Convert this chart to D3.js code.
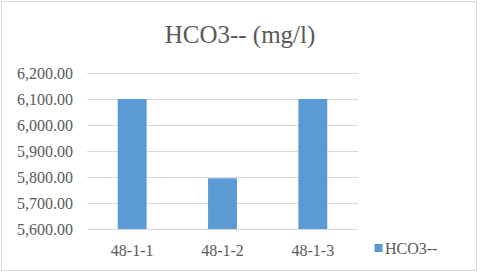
<!DOCTYPE html>
<html>
<head>
<meta charset="utf-8">
<script src="https://cdn.jsdelivr.net/npm/d3@7"></script>
<style>
  body { margin: 0; background: #fff; }
  svg text { font-family: 'Liberation Serif', 'Times New Roman', serif !important; fill: #595959; }
</style>
</head>
<body>
<div id="chart"></div>
<script>
// data
var categories = ["48-1-1", "48-1-2", "48-1-3"];
var values = [6100, 5795, 6100];
var seriesName = "HCO3--";
var yTicks = [5600, 5700, 5800, 5900, 6000, 6100, 6200];

var serif = "'Liberation Serif', 'Times New Roman', serif"

var svg = d3.select("#chart")
    .append("svg")
    .attr("width", 480)
    .attr("height", 274)
    .attr("font-family", serif)

// chart frame
svg.append("rect")
    .attr("x", 1.5).attr("y", 1.5)
    .attr("width", 475).attr("height", 269)
    .attr("fill", "#fff")
    .attr("stroke", "#d9d9d9")

svg.append("text")
    .attr("x", 240)
    .attr("y", 43)
    .attr("text-anchor", "middle")
    .style("font-size", "25px")
    .text("HCO3-- (mg/l)")

var x = d3.scaleBand()
    .domain(categories)
    .range([87, 358])
    .paddingInner(0.68)
    .paddingOuter(0.34)

var y = d3.scaleLinear()
    .domain([5600, 6200])
    .range([229, 73])

// gridlines
svg.append("g")
    .selectAll("line")
    .data(yTicks)
    .enter()
    .append("line")
    .attr("x1", 87).attr("x2", 358)
    .attr("y1", d => Math.round(y(d)) + 0.5)
    .attr("y2", d => Math.round(y(d)) + 0.5)
    .attr("stroke", "#d9d9d9")

// y axis labels
var yAxis = svg.append("g")
    .attr("transform", "translate(73,0)")
    .call(d3.axisLeft(y).tickValues(yTicks).tickSize(0).tickPadding(0).tickFormat(d3.format(",.2f")))
yAxis.attr("font-family", serif).attr("font-size", 16)
yAxis.select(".domain").remove()
yAxis.selectAll("text")
    .attr("fill", "#595959")

svg.selectAll(".bar")
    .data(values)
    .enter()
    .append("rect")
    .attr("class", "bar")
    .attr("x", (d, i) => x(categories[i]))
    .attr("y", d => y(d))
    .attr("width", x.bandwidth())
    .attr("height", d => y(5600) - y(d))
    .attr("fill", "#5b9bd5")

// x axis labels
var xAxis = svg.append("g")
    .attr("transform", "translate(0,245)")
    .call(d3.axisBottom(x).tickSize(0).tickPadding(0))
xAxis.attr("font-family", serif).attr("font-size", 16)
xAxis.select(".domain").remove()
xAxis.selectAll("text")
    .attr("fill", "#595959")

// legend
svg.append("rect")
    .attr("x", 374.5).attr("y", 244)
    .attr("width", 8).attr("height", 8)
    .attr("fill", "#5b9bd5")
svg.append("text")
    .attr("x", 385)
    .attr("y", 254)
    .style("font-size", "16px")
    .text(seriesName)
</script>
</body>
</html>
